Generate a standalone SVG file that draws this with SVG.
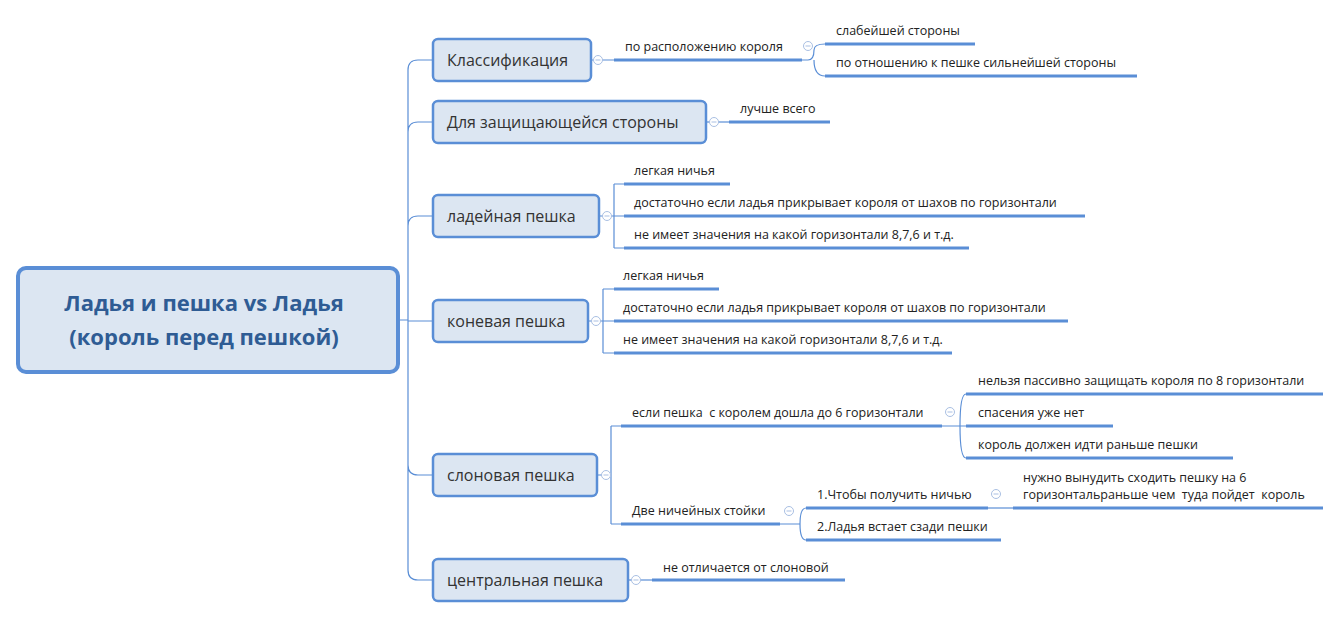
<svg xmlns="http://www.w3.org/2000/svg" width="1343" height="619" viewBox="0 0 1343 619">
<style>
.n{fill:#dce6f2;stroke:#5a8ed6;stroke-width:2.5}
.t{font-family:"Open Sans",sans-serif;font-size:16px;fill:#333}
.s{font-family:"Open Sans",sans-serif;font-size:12.5px;fill:#222}
.u{stroke:#5a8ed6;stroke-width:3;fill:none}
.c{stroke:#5a8ed6;stroke-width:1.2;fill:none}
.k{fill:#fff;stroke:#a9bfe3;stroke-width:1}
.km{stroke:#a9bfe3;stroke-width:1}
</style>
<rect width="1343" height="619" fill="#fff"/>
<g id="connectors">
<path class="c" d="M398 320H408 M408 70Q408 60 418 60H433 M408 132Q408 122 418 122H433 M408 226Q408 216 418 216H433 M408 321H433 M408 465Q408 475 418 475H433 M408 570Q408 580 418 580H433 M408 70V570"/>
<path class="c" d="M591 60H614 M802 60H808 Q814 60 814 50 Q814 44 825 44 M814 60Q814 76 825 76"/>
<path class="c" d="M706 122H729"/>
<path class="c" d="M599 216H624 M614 184V248 M614 184H624 M614 248H624"/>
<path class="c" d="M588 321H614 M603 289V353 M603 289H614 M603 353H614"/>
<path class="c" d="M597 475H611 M611 426V524 M611 426H621 M611 524H621"/>
<path class="c" d="M942 426H960 M960 426Q960 394 966 394 M960 426H966 M960 426Q960 458 966 458"/>
<path class="c" d="M780 524H800 Q800 508 806 508 M800 524Q800 540 806 540"/>
<path class="c" d="M988 508H1013"/>
<path class="c" d="M628 580H652"/>
</g>
<g id="root">
<rect x="18" y="268" width="380" height="104" rx="8" fill="#dce6f2" stroke="#5a8ed6" stroke-width="4"/>
<text x="204" y="311" text-anchor="middle" font-family="Open Sans,sans-serif" font-size="22" font-weight="bold" fill="#2f5c94">Ладья и пешка vs Ладья</text>
<text x="204" y="345" text-anchor="middle" font-family="Open Sans,sans-serif" font-size="22" font-weight="bold" fill="#2f5c94">(король перед пешкой)</text>
</g>
<g id="n1"><rect class="n" x="433" y="39" width="158" height="42" rx="5"/><text class="t" x="447" y="66">Классификация</text></g>
<g id="n2"><rect class="n" x="433" y="101" width="273" height="42" rx="5"/><text class="t" x="447" y="128">Для защищающейся стороны</text></g>
<g id="n3"><rect class="n" x="433" y="195" width="166" height="42" rx="5"/><text class="t" x="447" y="222">ладейная пешка</text></g>
<g id="n4"><rect class="n" x="433" y="300" width="155" height="42" rx="5"/><text class="t" x="447" y="327">коневая пешка</text></g>
<g id="n5"><rect class="n" x="433" y="454" width="164" height="42" rx="5"/><text class="t" x="447" y="481">слоновая пешка</text></g>
<g id="n6"><rect class="n" x="433" y="559" width="195" height="42" rx="5"/><text class="t" x="447" y="586">центральная пешка</text></g>
<g id="toggles">
<circle class="k" cx="598" cy="60" r="4.5"/><path class="km" d="M595.5 60h5"/>
<circle class="k" cx="714" cy="122" r="4.5"/><path class="km" d="M711.5 122h5"/>
<circle class="k" cx="607" cy="216" r="4.5"/><path class="km" d="M604.5 216h5"/>
<circle class="k" cx="596" cy="321" r="4.5"/><path class="km" d="M593.5 321h5"/>
<circle class="k" cx="606" cy="475" r="4.5"/><path class="km" d="M603.5 475h5"/>
<circle class="k" cx="636" cy="580" r="4.5"/><path class="km" d="M633.5 580h5"/>
<circle class="k" cx="808" cy="46" r="4.5"/><path class="km" d="M805.5 46h5"/>
<circle class="k" cx="950" cy="412" r="4.5"/><path class="km" d="M947.5 412h5"/>
<circle class="k" cx="789" cy="511" r="4.5"/><path class="km" d="M786.5 511h5"/>
<circle class="k" cx="996" cy="494" r="4.5"/><path class="km" d="M993.5 494h5"/>
</g>
<g id="leaves">
<path class="u" d="M614 60H802 M825 44H975 M825 76H1137 M729 122H830 M624 184H730 M624 216H1085 M624 248H969 M614 289H719 M614 321H1068 M614 353H952 M621 426H942 M966 394H1323 M966 426H1113 M966 458H1233 M621 524H780 M806 508H988 M1013 508H1323 M806 540H1001 M652 580H845"/>
<text class="s" x="625" y="51">по расположению короля</text>
<text class="s" x="836" y="35">слабейшей стороны</text>
<text class="s" x="836" y="67">по отношению к пешке сильнейшей стороны</text>
<text class="s" x="740" y="113">лучше всего</text>
<text class="s" x="634" y="175">легкая ничья</text>
<text class="s" x="634" y="207">достаточно если ладья прикрывает короля от шахов по горизонтали</text>
<text class="s" x="634" y="239">не имеет значения на какой горизонтали 8,7,6 и т.д.</text>
<text class="s" x="623" y="280">легкая ничья</text>
<text class="s" x="623" y="312">достаточно если ладья прикрывает короля от шахов по горизонтали</text>
<text class="s" x="623" y="344">не имеет значения на какой горизонтали 8,7,6 и т.д.</text>
<text class="s" x="632" y="417" xml:space="preserve">если пешка  с королем дошла до 6 горизонтали</text>
<text class="s" x="978" y="385">нельзя пассивно защищать короля по 8 горизонтали</text>
<text class="s" x="978" y="417">спасения уже нет</text>
<text class="s" x="978" y="449">король должен идти раньше пешки</text>
<text class="s" x="632" y="515">Две ничейных стойки</text>
<text class="s" x="817" y="499">1.Чтобы получить ничью</text>
<text class="s" x="1023" y="482">нужно вынудить сходить пешку на 6</text>
<text class="s" x="1023" y="499" xml:space="preserve">горизонтальраньше чем  туда пойдет  король</text>
<text class="s" x="817" y="531">2.Ладья встает сзади пешки</text>
<text class="s" x="663" y="572">не отличается от слоновой</text>
</g>
</svg>
